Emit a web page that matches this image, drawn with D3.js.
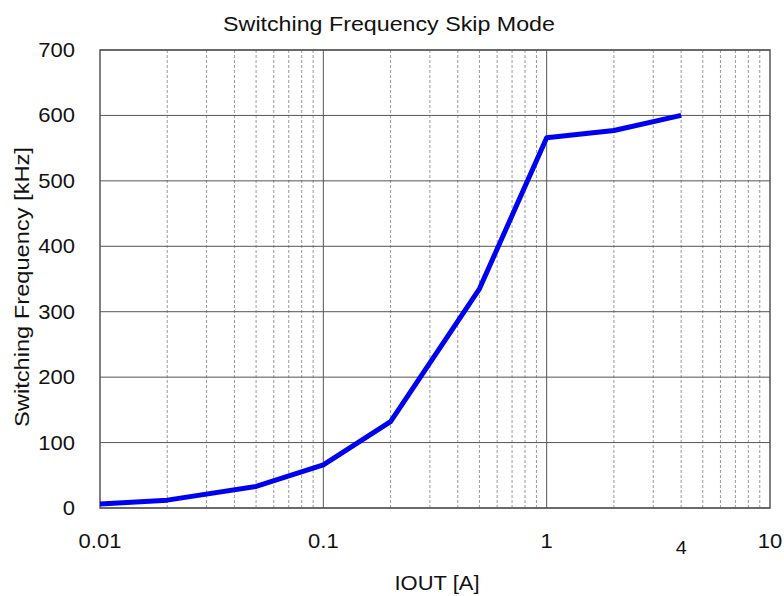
<!DOCTYPE html>
<html><head><meta charset="utf-8">
<script src="https://cdn.jsdelivr.net/npm/d3@7"></script>
<style>body{margin:0;background:#fff}svg{display:block}</style>
</head><body>
<svg id="c" width="784" height="596"></svg>
<script>
const iout = [0.01, 0.02, 0.05, 0.1, 0.2, 0.5, 1, 2, 4];
const freq = [6, 12, 33, 66, 132, 335, 566, 577, 600];
const xTickLabels = [0.01, 0.1, 1, 10];
const xExtraLabel = [4];
const yTicks = [0, 100, 200, 300, 400, 500, 600, 700];

const svg = d3.select("#c");
const L = 100, R = 770, T = 50, B = 508;
const x = d3.scaleLog().domain([0.01, 10]).range([L, R]);
const y = d3.scaleLinear().domain([0, 700]).range([B, T]);
const font = "Liberation Sans, Arial, sans-serif";

// place text at (px,py), horizontally stretched by k (glyphs scaled)
function label(parent, txt, px, py, size, anchor, k, rot) {
  const t = parent.append("text").attr("x", 0).attr("y", 0)
    .attr("text-anchor", anchor).attr("font-family", font)
    .attr("font-size", size).attr("fill", "#111").text(txt);
  t.attr("transform", `translate(${px},${py})` + (rot ? ` rotate(${rot})` : "") + ` scale(${k},1)`);
  return t;
}
function fitWidth(t, target) {
  const w = t.node().getComputedTextLength();
  const tr = t.attr("transform").replace(/scale\([^)]*\)/, `scale(${target / w},1)`);
  t.attr("transform", tr);
}

// minor vertical grid
const minor = [];
for (let d = 0.01; d < 10; d *= 10) for (let k = 2; k <= 9; k++) minor.push(d * k);
svg.append("g").selectAll("line").data(minor).join("line")
  .attr("x1", d => x(d)).attr("x2", d => x(d)).attr("y1", T).attr("y2", B)
  .attr("stroke", "#999").attr("stroke-width", 1).attr("stroke-dasharray", "3,2");
// horizontal grid
svg.append("g").selectAll("line").data(yTicks).join("line")
  .attr("x1", L).attr("x2", R).attr("y1", d => y(d)).attr("y2", d => y(d))
  .attr("stroke", "#555").attr("stroke-width", 1);
// major vertical grid
svg.append("g").selectAll("line").data([0.1, 1]).join("line")
  .attr("x1", d => x(d)).attr("x2", d => x(d)).attr("y1", T).attr("y2", B)
  .attr("stroke", "#555").attr("stroke-width", 1);
// border
svg.append("rect").attr("x", L).attr("y", T).attr("width", R - L).attr("height", B - T)
  .attr("fill", "none").attr("stroke", "#555").attr("stroke-width", 1.5);

// data line
svg.append("path").datum(iout.map((v, i) => [v, freq[i]]))
  .attr("d", d3.line().x(d => x(d[0])).y(d => y(d[1])))
  .attr("fill", "none").attr("stroke", "#0000f0").attr("stroke-width", 5)
  .attr("stroke-linejoin", "round");

const gl = svg.append("g");
// y labels
yTicks.forEach(v => label(gl, v, 75, y(v) + 7, 20, "end", 1.1));
// x labels
xTickLabels.forEach(v => label(gl, v, x(v), 548, 20, "middle", 1.1));
xExtraLabel.forEach(v => label(gl, v, x(v), 554, 18, "middle", 1.1));

// titles
fitWidth(label(gl, "Switching Frequency Skip Mode", 389, 31, 19.5, "middle", 1), 332);
fitWidth(label(gl, "IOUT [A]", 437, 590, 20, "middle", 1), 85);
fitWidth(label(gl, "Switching Frequency [kHz]", 29, 287, 20, "middle", 1, -90), 280);
</script>
</body></html>
